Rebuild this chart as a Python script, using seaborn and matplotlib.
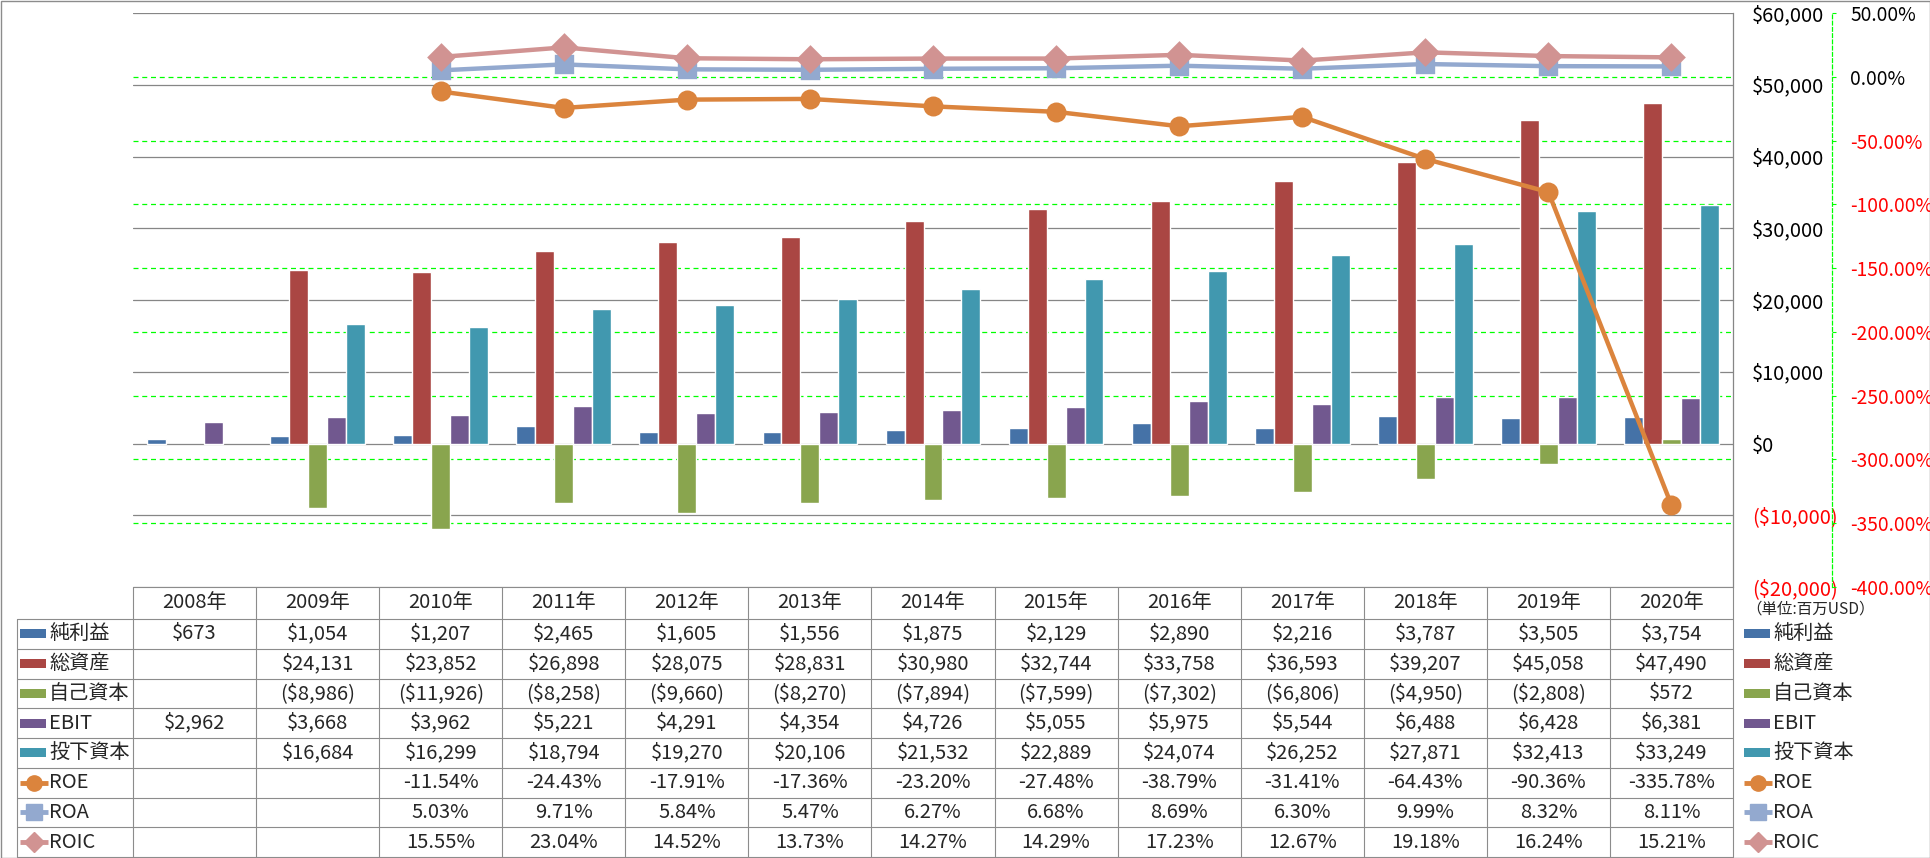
import numpy as np
import pandas as pd
import seaborn as sns
import matplotlib.pyplot as plt
from matplotlib.patches import Rectangle

# data (百万USD / %)
years = ["2008年", "2009年", "2010年", "2011年", "2012年", "2013年", "2014年",
         "2015年", "2016年", "2017年", "2018年", "2019年", "2020年"]
net_income = [673, 1054, 1207, 2465, 1605, 1556, 1875, 2129, 2890, 2216, 3787, 3505, 3754]
total_assets = [np.nan, 24131, 23852, 26898, 28075, 28831, 30980, 32744, 33758, 36593, 39207, 45058, 47490]
equity = [np.nan, -8986, -11926, -8258, -9660, -8270, -7894, -7599, -7302, -6806, -4950, -2808, 572]
ebit = [2962, 3668, 3962, 5221, 4291, 4354, 4726, 5055, 5975, 5544, 6488, 6428, 6381]
invested_capital = [np.nan, 16684, 16299, 18794, 19270, 20106, 21532, 22889, 24074, 26252, 27871, 32413, 33249]
roe = [np.nan, np.nan, -11.54, -24.43, -17.91, -17.36, -23.20, -27.48, -38.79, -31.41, -64.43, -90.36, -335.78]
roa = [np.nan, np.nan, 5.03, 9.71, 5.84, 5.47, 6.27, 6.68, 8.69, 6.30, 9.99, 8.32, 8.11]
roic = [np.nan, np.nan, 15.55, 23.04, 14.52, 13.73, 14.27, 14.29, 17.23, 12.67, 19.18, 16.24, 15.21]

bar_names = ["純利益", "総資産", "自己資本", "EBIT", "投下資本"]
bar_colors = ["#4572A7", "#AA4643", "#89A54E", "#71588F", "#4198AF"]
line_names = ["ROE", "ROA", "ROIC"]
line_colors = ["#DB843D", "#93A9CF", "#D19392"]
line_markers = ["o", "s", "D"]

money_ticks = list(range(-20000, 60001, 10000))
pct_ticks = list(range(-400, 51, 50))

bar_values = [net_income, total_assets, equity, ebit, invested_capital]
line_values = [roe, roa, roic]

bars = (pd.DataFrame({"year": years, **dict(zip(bar_names, bar_values))})
        .melt(id_vars="year", var_name="series", value_name="value").dropna())
lines = (pd.DataFrame({"year": years, **dict(zip(line_names, line_values))})
         .melt(id_vars="year", var_name="series", value_name="value").dropna())


def money(v):
    if np.isnan(v):
        return ""
    return f"${v:,.0f}" if v >= 0 else f"(${-v:,.0f})"


def pct(v):
    return "" if np.isnan(v) else f"{v:.2f}%"


sns.set_theme(style="white")
plt.rcParams["font.family"] = ["Noto Sans CJK JP", "DejaVu Sans"]

W, H = 1930, 858
fig = plt.figure(figsize=(W / 100, H / 100), dpi=100)

# overlay in pixel coordinates for the data table and frame
tab = fig.add_axes([0, 0, 1, 1])
tab.set_xlim(0, W)
tab.set_ylim(H, 0)
tab.axis("off")

left, right, top, bottom = 133, 1733, 13, 587
ax = fig.add_axes([left / W, 1 - bottom / H, (right - left) / W, (bottom - top) / H])

sns.barplot(data=bars, x="year", y="value", hue="series", order=years,
            hue_order=bar_names, palette=bar_colors, width=0.77, saturation=1,
            errorbar=None, legend=False, ax=ax)
ax.set_xlim(-0.5, len(years) - 0.5)
ax.set_ylim(money_ticks[0], money_ticks[-1])
ax.set_yticks(money_ticks, labels=[money(v) for v in money_ticks])
ax.set_xlabel("")
ax.set_ylabel("")
ax.yaxis.grid(True, color="#868686", lw=0.9)
ax.xaxis.grid(False)
ax.set_axisbelow(True)
for s in ["top", "left", "bottom"]:
    ax.spines[s].set_visible(False)
ax.spines["right"].set_color("#868686")
ax.spines["right"].set_linewidth(0.9)

# secondary gridlines sit behind the bars
for v in pct_ticks[1:-1]:
    f = (v - pct_ticks[0]) / (pct_ticks[-1] - pct_ticks[0])
    ax.plot([0, 1], [f, f], transform=ax.transAxes, color="#00FF00",
            lw=0.9, ls=(0, (4, 3)), zorder=0.8)

ax2 = ax.twinx()
sns.pointplot(data=lines, x="year", y="value", hue="series", order=years,
              hue_order=line_names, palette=line_colors, markers=line_markers,
              linestyles="-", errorbar=None, legend=False, ax=ax2,
              markersize=12, linewidth=3.2)
ax2.set_xlim(-0.5, len(years) - 0.5)
ax2.set_ylim(pct_ticks[0], pct_ticks[-1])
ax2.set_yticks(pct_ticks, labels=[pct(v) for v in pct_ticks])
ax2.set_xlabel("")
ax2.set_ylabel("")
ax2.grid(False)
for s in ["top", "left", "bottom"]:
    ax2.spines[s].set_visible(False)
ax2.spines["right"].set_position(("outward", 99 * 0.72))
ax2.spines["right"].set_color("#00FF00")
ax2.spines["right"].set_linestyle((0, (3, 2)))
ax2.spines["right"].set_linewidth(0.9)

# twinx moves the primary ticks to the left, put them back on the right
ax.yaxis.tick_right()
ax.tick_params(axis="y", left=False, right=False, labelleft=False, labelright=True,
               length=0, pad=13.5, labelsize=14.4)
ax.tick_params(axis="x", bottom=False, labelbottom=False)
ax2.tick_params(axis="y", right=True, length=3, width=0.8, color="#00FF00",
                pad=10, labelsize=13.8)
ax2.tick_params(axis="x", bottom=False, labelbottom=False, top=False)

# data table
grid_c = "#8C8C8C"
lab_left = 17
col_w = (right - left) / len(years)
head_top, head_bot = 587, 619
row_h = (H - 1 - head_bot) / 8
row_tops = [head_bot + i * row_h for i in range(9)]

tab.plot([left, right], [head_top, head_top], color=grid_c, lw=0.8)
for y in row_tops:
    tab.plot([lab_left, right], [y, y], color=grid_c, lw=0.8)
tab.plot([lab_left, lab_left], [head_bot, row_tops[-1]], color=grid_c, lw=0.8)
for i in range(len(years) + 1):
    x = left + i * col_w
    tab.plot([x, x], [head_top, row_tops[-1]], color=grid_c, lw=0.8)

fs = 14.5
for i, yr in enumerate(years):
    tab.text(left + (i + 0.5) * col_w, (head_top + head_bot) / 2, yr,
             ha="center", va="center", fontsize=fs)

rows = [(n, c, "bar", None, vals, money) for n, c, vals in zip(bar_names, bar_colors, bar_values)]
rows += [(n, c, "line", m, vals, pct) for n, c, m, vals in zip(line_names, line_colors, line_markers, line_values)]


def legend_key(x0, yc, color, kind, marker):
    if kind == "bar":
        tab.add_patch(Rectangle((x0, yc - 4.5), 26, 9, color=color, lw=0))
    else:
        tab.plot([x0, x0 + 28], [yc, yc], color=color, lw=3.5, solid_capstyle="butt")
        tab.plot([x0 + 14], [yc], marker=marker, color=color,
                 markersize=11 if marker != "D" else 10)


for r, (name, color, kind, marker, vals, fmt) in enumerate(rows):
    yc = (row_tops[r] + row_tops[r + 1]) / 2
    legend_key(20, yc, color, kind, marker)
    tab.text(49, yc, name, ha="left", va="center", fontsize=fs)
    legend_key(1744, yc, color, kind, marker)
    tab.text(1773, yc, name, ha="left", va="center", fontsize=fs)
    for i, v in enumerate(vals):
        tab.text(left + (i + 0.5) * col_w, yc, fmt(v), ha="center",
                 va="center", fontsize=fs)

tab.text(1746, 609, "（単位:百万USD）", ha="left", va="center", fontsize=11.2)

tab.add_patch(Rectangle((0.5, 0.5), W - 1, H - 1, fill=False, ec="#8C8C8C", lw=1))

# negative axis labels in red (done last, spine moves rebuild the ticks)
for axis_obj, ticks in [(ax.yaxis, money_ticks), (ax2.yaxis, pct_ticks)]:
    for tick, v in zip(axis_obj.get_major_ticks(), ticks):
        tick.label2.set_color("#FF0000" if v < 0 else "black")

fig.savefig("out.png", dpi=100)
